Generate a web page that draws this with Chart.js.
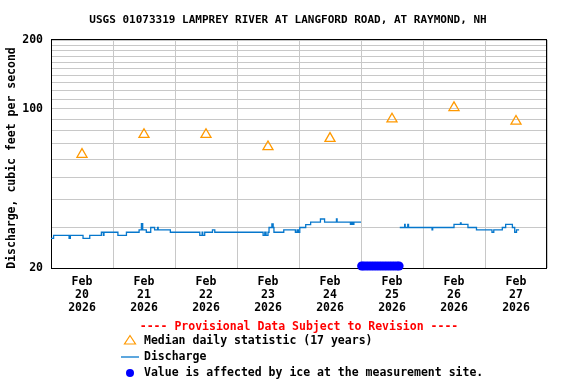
<!DOCTYPE html>
<html>
<head>
<meta charset="utf-8">
<script src="https://cdn.jsdelivr.net/npm/chart.js@4/dist/chart.umd.min.js"></script>
<style>
  html, body { margin: 0; padding: 0; background: #fff; }
  #wrap { width: 576px; height: 384px; }
</style>
</head>
<body>
<div id="wrap"><canvas id="chart" width="576" height="384"></canvas></div>
<script>
// All x values are hours counted from Feb 20 2026 00:00.
const TITLE = "USGS 01073319 LAMPREY RIVER AT LANGFORD ROAD, AT RAYMOND, NH";
const Y_TITLE = "Discharge, cubic feet per second";
const PROVISIONAL = "---- Provisional Data Subject to Revision ----";
const LEGEND_MEDIAN = "Median daily statistic (17 years)";
const LEGEND_FLOW = "Discharge";
const LEGEND_ICE = "Value is affected by ice at the measurement site.";

const FONT = '"DejaVu Sans Mono", "Liberation Mono", monospace';
const FLOW_COLOR = "#0677cc";
const MEDIAN_COLOR = "#ff9900";
const ICE_COLOR = "#0000ff";

// Day labels sit at noon, grid lines at midnight
const dayHours  = [12, 36, 60, 84, 108, 132, 156, 180];
const dayLabels = [
  ["Feb", "20", "2026"], ["Feb", "21", "2026"], ["Feb", "22", "2026"], ["Feb", "23", "2026"],
  ["Feb", "24", "2026"], ["Feb", "25", "2026"], ["Feb", "26", "2026"], ["Feb", "27", "2026"]
];

// Median daily statistic (17 years), one per day
const medianValues = [63, 77, 77, 68, 74, 90, 101, 88];

const dischargeHours = [
  0, 1, 7, 7.5, 12.4, 15, 19.5, 20.25, 20.5, 25.9,
  29.2, 34.1, 35, 35.5, 36.9, 38.6, 40.1, 41.25, 41.5, 46.2,
  57.6, 58.5, 58.75, 59.5, 62.5, 63.4, 82.1, 82.75, 83.25, 84,
  84.4, 85.5, 86, 86.3, 90.1, 94.6, 95.25, 95.75, 96.3, 98.6,
  100.5, 104.3, 105.9, 110.5, 110.75, 115.9, 116.25, 116.75, 117.25, 120,
  127, 135, 136.9, 137.1, 138.1, 138.4, 147.5, 147.75, 156, 158.5,
  158.75, 161.4, 164.7, 170.7, 171.4, 174.7, 176, 178.6, 179.5, 180.2,
  181.2
];
const dischargeValues = [
  27.0, 27.8, 27.0, 27.8, 27.0, 27.8, 28.7, 27.8, 28.7, 27.8,
  28.7, 29.4, 31.3, 29.4, 28.7, 30.1, 29.4, 30.1, 29.4, 28.7,
  27.8, 28.7, 27.8, 28.7, 29.4, 28.7, 27.8, 28.7, 27.8, 28.7,
  30.1, 31.2, 30.1, 28.7, 29.4, 28.7, 29.4, 28.7, 30.1, 31.0,
  31.8, 32.8, 31.8, 32.8, 31.8, 31.1, 31.8, 31.1, 31.8, 31.8,
  null, 30.1, 31.1, 30.1, 31.1, 30.1, 29.4, 30.1, 31.1, 31.5,
  31.1, 30.1, 29.4, 28.7, 29.4, 30.1, 31.1, 30.1, 28.7, 29.4,
  29.4
];

// Ice-affected period, markers drawn along the bottom of the plot
const iceHours = [120.25, 121, 122, 123, 124, 125, 126, 127, 128, 129, 130, 131, 132, 133, 134, 134.75];
const ICE_LEVEL = 20.4;

// Log axis: a grid line every 10 cfs, labels only on these
const yGridValues  = [20, 30, 40, 50, 60, 70, 80, 90, 100, 110, 120, 130, 140, 150, 160, 170, 180, 190, 200];
const yLabelValues = [20, 100, 200];

/**
 * Frame, title, rotated axis title and the hand-laid legend under the plot.
 */
const usgsDecor = {
  id: "usgsDecor",
  beforeDatasetsDraw(chart) {
    const { ctx, chartArea: a } = chart;
    ctx.save();
    ctx.strokeStyle = "#000";
    ctx.lineWidth = 1;
    ctx.strokeRect(Math.round(a.left) + 0.5, Math.round(a.top) - 0.5,
                   Math.round(a.right - a.left) - 1, Math.round(a.bottom - a.top) + 1);
    ctx.restore();
  },
  afterDraw(chart) {
    const { ctx, chartArea: a } = chart;
    ctx.save();
    ctx.textBaseline = "middle";

    // title
    ctx.fillStyle = "#000";
    ctx.font = `bold 11px ${FONT}`;
    ctx.textAlign = "center";
    ctx.fillText(TITLE, 288, 20);

    // y axis title
    ctx.font = `bold 11.5px ${FONT}`;
    ctx.save();
    ctx.translate(12, 158);
    ctx.rotate(-Math.PI / 2);
    ctx.fillText(Y_TITLE, 0, 0);
    ctx.restore();

    // provisional note
    ctx.fillStyle = "#ff0000";
    ctx.fillText(PROVISIONAL, (a.left + a.right) / 2, 327);

    // legend rows
    ctx.textAlign = "left";
    ctx.fillStyle = "#000";
    ctx.fillText(LEGEND_MEDIAN, 144, 341);
    ctx.fillText(LEGEND_FLOW, 144, 357);
    ctx.fillText(LEGEND_ICE, 144, 373);

    ctx.strokeStyle = MEDIAN_COLOR;
    ctx.lineWidth = 1.2;
    ctx.beginPath();
    ctx.moveTo(130, 335.5);
    ctx.lineTo(124.5, 344);
    ctx.lineTo(135.5, 344);
    ctx.closePath();
    ctx.stroke();

    ctx.strokeStyle = FLOW_COLOR;
    ctx.lineWidth = 1.3;
    ctx.beginPath();
    ctx.moveTo(121, 357);
    ctx.lineTo(139, 357);
    ctx.stroke();

    ctx.fillStyle = ICE_COLOR;
    ctx.beginPath();
    ctx.arc(130, 373, 4, 0, Math.PI * 2);
    ctx.fill();

    ctx.restore();
  }
};

const ctx = document.getElementById("chart").getContext("2d");

new Chart(ctx, {
  data: {
    datasets: [
      {
        type: "scatter",
        label: LEGEND_MEDIAN,
        data: dayHours.map((h, i) => ({ x: h, y: medianValues[i] })),
        pointStyle: "triangle",
        pointRadius: 5.8,
        pointBorderWidth: 1.3,
        borderColor: MEDIAN_COLOR,
        backgroundColor: "rgba(0,0,0,0)",
        showLine: false
      },
      {
        type: "line",
        label: LEGEND_FLOW,
        data: dischargeHours.map((h, i) => ({ x: h, y: dischargeValues[i] })),
        borderColor: FLOW_COLOR,
        borderWidth: 1.3,
        // hold each value until the next reading, then step
        stepped: "before",
        spanGaps: false,
        pointRadius: 0,
        fill: false
      },
      {
        type: "scatter",
        label: LEGEND_ICE,
        data: iceHours.map((h) => ({ x: h, y: ICE_LEVEL })),
        pointStyle: "circle",
        pointRadius: 4.5,
        borderWidth: 0,
        backgroundColor: ICE_COLOR,
        borderColor: ICE_COLOR,
        clip: false
      }
    ]
  },
  options: {
    responsive: false,
    animation: false,
    devicePixelRatio: 1,
    layout: { padding: { top: 40, right: 29, left: 0, bottom: 0 } },
    plugins: {
      legend: { display: false },
      title: { display: false },
      tooltip: { enabled: false }
    },
    scales: {
      x: {
        type: "linear",
        min: 0,
        max: 192,
        afterFit: (scale) => { scale.height = 116; },
        grid: {
          drawTicks: false,
          lineWidth: 1,
          // only midnight lines are drawn
          color: (c) => (c.tick && c.tick.value % 24 === 0 ? "#c8c8c8" : "rgba(0,0,0,0)")
        },
        border: { display: false },
        ticks: {
          stepSize: 12,
          autoSkip: false,
          maxRotation: 0,
          padding: 8,
          color: "#000",
          font: { family: FONT, size: 11.5, weight: "bold", lineHeight: 1.1 },
          callback: (v) => {
            const i = dayHours.indexOf(v);
            return i > -1 ? dayLabels[i] : "";
          }
        }
      },
      y: {
        type: "logarithmic",
        min: 20,
        max: 200,
        afterFit: (scale) => { scale.width = 51; },
        afterBuildTicks: (axis) => { axis.ticks = yGridValues.map((v) => ({ value: v })); },
        grid: { drawTicks: false, lineWidth: 1, color: "#c8c8c8" },
        border: { display: false },
        ticks: {
          autoSkip: false,
          padding: 8,
          color: "#000",
          font: { family: FONT, size: 11.5, weight: "bold" },
          callback: (v) => (yLabelValues.includes(v) ? String(v) : "")
        }
      }
    }
  },
  plugins: [usgsDecor]
});
</script>
</body>
</html>
